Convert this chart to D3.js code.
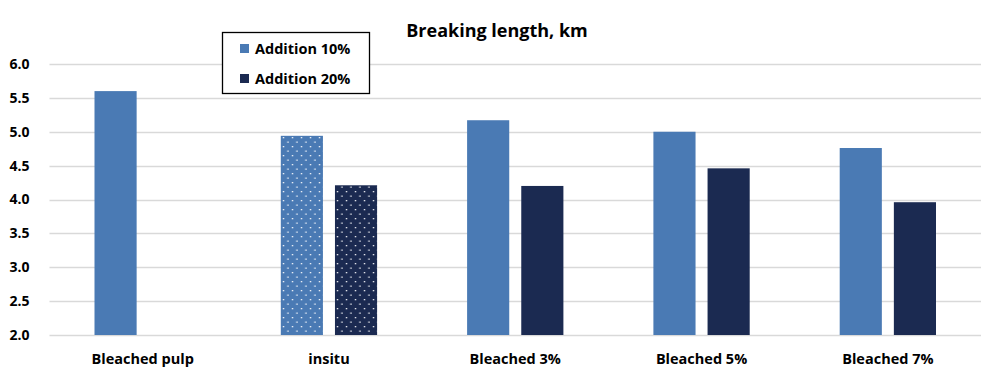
<!DOCTYPE html>
<html>
<head>
<meta charset="utf-8">
<script src="https://cdn.jsdelivr.net/npm/d3@7"></script>
<style>
  html, body { margin: 0; padding: 0; background: #fff; }
  svg { display: block; font-family: "Open Sans", "Liberation Sans", sans-serif; }
</style>
</head>
<body>
<div id="chart"></div>
<script>
const WIDTH = 993;
const HEIGHT = 374;

// data
const categories = ["Bleached pulp", "insitu", "Bleached 3%", "Bleached 5%", "Bleached 7%"];
const seriesNames = ["Addition 10%", "Addition 20%"];
const add10 = [5.60, 4.94, 5.17, 5.00, 4.76];
const add20 = [null, 4.21, 4.20, 4.46, 3.96];
const yTicks = [2.0, 2.5, 3.0, 3.5, 4.0, 4.5, 5.0, 5.5, 6.0];
const dotted = ["insitu"];

const COLORS = ["#4a7ab4", "#1b2a51"];
const GRID = "#d9d9d9";

const margin = { top: 64, right: 12, bottom: 39, left: 49.5 };

const svg = d3.select("#chart").append("svg")
  .attr("width", WIDTH)
  .attr("height", HEIGHT);

// dotted pattern fills for the insitu bars
const defs = svg.append("defs");
COLORS.forEach((c, i) => {
  const p = defs.append("pattern")
    .attr("id", "dots" + i)
    .attr("patternUnits", "userSpaceOnUse")
    .attr("width", 9).attr("height", 9);
  p.append("rect").attr("width", 9).attr("height", 9).attr("fill", c);
  p.append("rect").attr("x", 2).attr("y", 2).attr("width", 1.3).attr("height", 1.3).attr("fill", "#fff");
  p.append("rect").attr("x", 6.5).attr("y", 6.5).attr("width", 1.3).attr("height", 1.3).attr("fill", "#fff");
});

const x = d3.scaleBand()
  .domain(categories)
  .range([margin.left, WIDTH - margin.right])
  .paddingInner(0)
  .paddingOuter(0);

const xSub = d3.scaleBand()
  .domain(seriesNames)
  .range([45, x.bandwidth() - 45])
  .paddingInner(0.222);

const y = d3.scaleLinear()
  .domain([2, 6])
  .range([HEIGHT - margin.bottom, margin.top]);

// gridlines
svg.append("g")
  .selectAll("line")
  .data(yTicks)
  .join("line")
  .attr("x1", margin.left)
  .attr("x2", WIDTH - margin.right)
  .attr("y1", d => Math.round(y(d)) + 0.5)
  .attr("y2", d => Math.round(y(d)) + 0.5)
  .attr("stroke", GRID)
  .attr("stroke-width", 1.3);

// y axis labels
const yAxis = svg.append("g")
  .attr("transform", `translate(${margin.left - 20},0)`)
  .call(d3.axisLeft(y).tickValues(yTicks).tickFormat(d3.format(".1f")).tickSize(0).tickPadding(0));
yAxis.select(".domain").remove();
yAxis.selectAll("text")
  .attr("font-family", "Open Sans, Liberation Sans, sans-serif")
  .attr("font-size", 14)
  .attr("font-weight", "bold")
  .attr("fill", "#000");

// bars
const rows = categories.map((c, i) => ({ cat: c, vals: [add10[i], add20[i]] }));
const groups = svg.append("g")
  .selectAll("g")
  .data(rows)
  .join("g")
  .attr("transform", d => `translate(${x(d.cat)},0)`);

groups.selectAll("rect")
  .data(d => d.vals.map((v, i) => ({ v, i, cat: d.cat })).filter(e => e.v != null))
  .join("rect")
  .attr("x", d => xSub(seriesNames[d.i]))
  .attr("width", xSub.bandwidth())
  .attr("y", d => y(d.v))
  .attr("height", d => y(2) - y(d.v))
  .attr("fill", d => dotted.includes(d.cat) ? `url(#dots${d.i})` : COLORS[d.i]);

// x axis labels
const xAxis = svg.append("g")
  .attr("transform", `translate(0,${HEIGHT - margin.bottom + 19})`)
  .call(d3.axisBottom(x).tickSize(0).tickPadding(0));
xAxis.select(".domain").remove();
xAxis.selectAll("text")
  .attr("font-family", "Open Sans, Liberation Sans, sans-serif")
  .attr("font-size", 14.5)
  .attr("font-weight", "bold")
  .attr("fill", "#000");

// title
svg.append("text")
  .attr("x", 497)
  .attr("y", 37)
  .attr("text-anchor", "middle")
  .attr("font-size", 18)
  .attr("font-weight", "bold")
  .attr("fill", "#000")
  .text("Breaking length, km");

// legend
const legend = svg.append("g").attr("transform", "translate(222,32)");
legend.append("rect")
  .attr("x", 0.5).attr("y", 0.5)
  .attr("width", 147).attr("height", 61)
  .attr("fill", "#fff")
  .attr("stroke", "#000")
  .attr("stroke-width", 1.3);
const items = legend.selectAll("g.item")
  .data(seriesNames)
  .join("g")
  .attr("class", "item")
  .attr("transform", (d, i) => `translate(18,${12 + i * 30})`);
items.append("rect")
  .attr("width", 9).attr("height", 9)
  .attr("fill", (d, i) => COLORS[i]);
items.append("text")
  .attr("x", 15)
  .attr("y", 10)
  .attr("font-size", 14.5)
  .attr("font-weight", "bold")
  .attr("fill", "#000")
  .text(d => d);
</script>
</body>
</html>
